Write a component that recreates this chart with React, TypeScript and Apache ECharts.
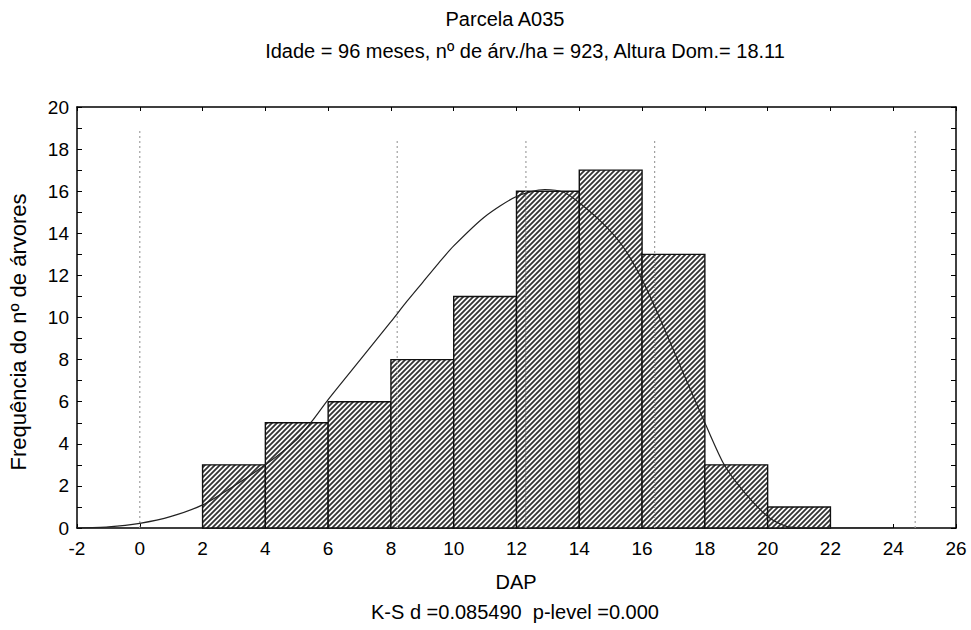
import React, { useEffect, useRef } from "react";
import * as echarts from "echarts";

// Histogram bins (DAP classes) and observed frequencies
const binStart = [2, 4, 6, 8, 10, 12, 14, 16, 18, 20];
const binEnd = [4, 6, 8, 10, 12, 14, 16, 18, 20, 22];
const frequency = [3, 5, 6, 8, 11, 16, 17, 13, 3, 1];

// Fitted curve
const curveX = [-2, -1, 0, 1, 2, 3, 4, 5, 5.5, 6, 7, 8, 8.5, 9, 9.5, 10, 11, 12, 12.9, 13.5, 14, 14.8, 15.4, 16, 16.6, 17.3, 18, 18.6, 19.2, 20, 20.6, 21, 22, 24];
const curveY = [0, 0.05, 0.22, 0.55, 1.1, 2.0, 3.0, 4.2, 5.1, 6.1, 7.95, 9.8, 10.75, 11.65, 12.55, 13.4, 14.8, 15.75, 16.08, 15.95, 15.45, 14.4, 13.35, 11.8, 9.85, 7.4, 5.0, 3.05, 1.8, 0.55, 0.08, 0.02, 0, 0];

// Dotted reference lines (mean, ±1 SD, ±3 SD)
const refLineX = [0, 8.2, 12.3, 16.4, 24.7];
const refLineTop = [19, 18.5, 18.5, 18.5, 19];

const titleText = "Parcela A035";
const subtitleText = "Idade = 96 meses, nº de árv./ha = 923, Altura Dom.= 18.11";
const xName = "DAP";
const yName = "Frequência do nº de árvores";
const footText = "K-S d =0.085490  p-level =0.000";

const FONT = "'Liberation Sans', Arial, sans-serif";

function makeHatch() {
  const s = 5;
  const c = document.createElement("canvas");
  c.width = s;
  c.height = s;
  const ctx = c.getContext("2d")!;
  ctx.fillStyle = "#ffffff";
  ctx.fillRect(0, 0, s, s);
  ctx.strokeStyle = "#333333";
  ctx.lineWidth = 1.8;
  ctx.beginPath();
  ctx.moveTo(-1, 1);
  ctx.lineTo(1, -1);
  ctx.moveTo(0, s);
  ctx.lineTo(s, 0);
  ctx.moveTo(s - 1, s + 1);
  ctx.lineTo(s + 1, s - 1);
  ctx.stroke();
  return { image: c, repeat: "repeat", imageWidth: s, imageHeight: s } as any;
}

export default function App() {
  const ref = useRef<HTMLDivElement>(null);
  useEffect(() => {
    if (!ref.current) return;
    const chart = echarts.init(ref.current, null, { renderer: "svg" });
    const hatch = makeHatch();
    const bars = binStart.map((s, i) => [s, binEnd[i], frequency[i]]);
    const curve = curveX.map((x, i) => [x, curveY[i]]);

    const refSeries = refLineX.map((x, i) => ({
      type: "line",
      data: [[x, 0], [x, refLineTop[i]]],
      symbol: "none",
      lineStyle: { color: "#a0a0a0", width: 1.2, type: [2, 3] },
      z: 4,
      silent: true,
    }));

    const axisLine = { show: true, onZero: false, lineStyle: { color: "#000", width: 1.5 } };
    const label = { color: "#000", fontSize: 19, fontFamily: FONT };

    chart.setOption({
      animation: false,
      backgroundColor: "#fff",
      grid: { left: 77, right: 15, top: 107, bottom: 102 },
      xAxis: [
        {
          type: "value", position: "bottom", min: -2, max: 26, interval: 2,
          axisLine, splitLine: { show: false },
          axisTick: { inside: true, length: 4, lineStyle: { color: "#000" } },
          axisLabel: { ...label, margin: 11 },
        },
        {
          type: "value", position: "top", min: -2, max: 26, interval: 2,
          axisLine, splitLine: { show: false },
          axisTick: { inside: true, length: 4, lineStyle: { color: "#000" } },
          axisLabel: { show: false },
        },
      ],
      yAxis: [
        {
          type: "value", position: "left", min: 0, max: 20, interval: 2,
          axisLine, splitLine: { show: false },
          axisTick: { inside: true, length: 5, lineStyle: { color: "#000" } },
          minorTick: { show: true, splitNumber: 2, length: 5, lineStyle: { color: "#000" } },
          axisLabel: { ...label, margin: 8 },
        },
        {
          type: "value", position: "right", min: 0, max: 20, interval: 2,
          axisLine, splitLine: { show: false },
          axisTick: { inside: true, length: 5, lineStyle: { color: "#000" } },
          minorTick: { show: true, splitNumber: 2, length: 5, lineStyle: { color: "#000" } },
          axisLabel: { show: false },
        },
      ],
      series: [
        {
          type: "custom",
          data: bars,
          encode: { x: [0, 1], y: 2 },
          z: 2,
          renderItem: (params: any, api: any) => {
            const p0 = api.coord([api.value(0), api.value(2)]);
            const p1 = api.coord([api.value(1), 0]);
            return {
              type: "rect",
              shape: { x: p0[0], y: p0[1], width: p1[0] - p0[0], height: p1[1] - p0[1] },
              style: { fill: hatch, stroke: "#111", lineWidth: 1.4 },
            };
          },
        },
        ...refSeries,
        {
          type: "line",
          data: curve,
          smooth: 0.25,
          symbol: "none",
          lineStyle: { color: "#222", width: 1.2 },
          z: 5,
        },
      ],
      graphic: [
        { type: "text", x: 505, y: 19, style: { text: titleText, fill: "#000", font: `20px ${FONT}`, textAlign: "center", textVerticalAlign: "middle" } },
        { type: "text", x: 525, y: 51, style: { text: subtitleText, fill: "#000", font: `20px ${FONT}`, textAlign: "center", textVerticalAlign: "middle" } },
        { type: "text", x: 516, y: 582, style: { text: xName, fill: "#000", font: `20px ${FONT}`, textAlign: "center", textVerticalAlign: "middle" } },
        { type: "text", x: 515, y: 612, style: { text: footText, fill: "#000", font: `20px ${FONT}`, textAlign: "center", textVerticalAlign: "middle" } },
        { type: "text", x: 18, y: 332, rotation: Math.PI / 2, style: { text: yName, fill: "#000", font: `22px ${FONT}`, textAlign: "center", textVerticalAlign: "middle" } },
      ],
    });
    return () => chart.dispose();
  }, []);
  return <div ref={ref} style={{ width: 971, height: 630, position: "absolute", left: 0, top: 0 }} />;
}
